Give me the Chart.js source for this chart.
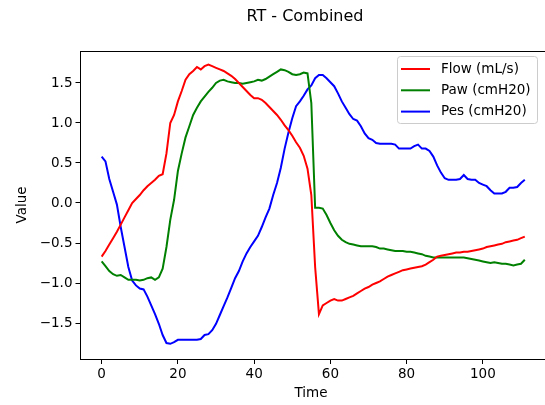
<!DOCTYPE html>
<html>
<head>
<meta charset="utf-8">
<script src="https://cdn.jsdelivr.net/npm/chart.js@4.4.1/dist/chart.umd.min.js"></script>
<style>
  html, body { margin:0; padding:0; background:#fff; }
  #wrap { width:545px; height:405px; position:relative; }
</style>
</head>
<body>
<div id="wrap"><canvas id="chart" width="545" height="405"></canvas></div>
<script>
// ===== Data =====
const TITLE = 'RT - Combined';
const X_LABEL = 'Time';
const Y_LABEL = 'Value';
const SERIES_NAMES = ['Flow (mL/s)', 'Paw (cmH20)', 'Pes (cmH20)'];
const SERIES_COLORS = ['#ff0000', '#008000', '#0000ff'];
const X_TICKS = [0, 20, 40, 60, 80, 100];
const Y_TICKS = [-1.5, -1.0, -0.5, 0.0, 0.5, 1.0, 1.5];

const flow = [
  -0.67,-0.60,-0.52,-0.44,-0.36,-0.27,-0.18,-0.09,0.00,0.05,
  0.10,0.16,0.21,0.25,0.29,0.34,0.36,0.62,1.00,1.10,
  1.27,1.40,1.54,1.61,1.65,1.70,1.67,1.71,1.73,1.71,
  1.69,1.67,1.65,1.62,1.59,1.55,1.50,1.45,1.40,1.35,
  1.31,1.31,1.29,1.25,1.20,1.15,1.10,1.04,0.97,0.91,
  0.84,0.76,0.69,0.59,0.43,0.10,-0.80,-1.39,-1.28,-1.25,
  -1.22,-1.20,-1.22,-1.22,-1.20,-1.18,-1.16,-1.13,-1.10,-1.07,
  -1.05,-1.02,-1.00,-0.98,-0.95,-0.92,-0.90,-0.88,-0.86,-0.84,
  -0.83,-0.82,-0.81,-0.80,-0.79,-0.77,-0.74,-0.71,-0.67,-0.66,
  -0.65,-0.64,-0.63,-0.62,-0.62,-0.61,-0.61,-0.60,-0.59,-0.58,
  -0.57,-0.55,-0.54,-0.53,-0.52,-0.51,-0.49,-0.48,-0.47,-0.46,
  -0.44,-0.42
];
const paw = [
  -0.73,-0.79,-0.85,-0.89,-0.91,-0.90,-0.93,-0.96,-0.96,-0.96,
  -0.97,-0.96,-0.94,-0.93,-0.96,-0.93,-0.82,-0.55,-0.21,0.04,
  0.40,0.62,0.82,0.96,1.10,1.19,1.27,1.33,1.39,1.44,
  1.50,1.53,1.54,1.52,1.51,1.50,1.50,1.49,1.50,1.51,
  1.52,1.54,1.53,1.55,1.58,1.61,1.64,1.67,1.66,1.64,
  1.61,1.60,1.61,1.63,1.62,1.25,-0.06,-0.06,-0.07,-0.15,
  -0.25,-0.34,-0.41,-0.46,-0.49,-0.51,-0.52,-0.53,-0.54,-0.54,
  -0.54,-0.54,-0.55,-0.57,-0.57,-0.58,-0.59,-0.60,-0.60,-0.60,
  -0.61,-0.61,-0.62,-0.63,-0.64,-0.66,-0.67,-0.68,-0.68,-0.68,
  -0.68,-0.68,-0.68,-0.68,-0.68,-0.68,-0.69,-0.70,-0.71,-0.72,
  -0.73,-0.74,-0.75,-0.74,-0.75,-0.76,-0.76,-0.77,-0.78,-0.77,
  -0.76,-0.71
];
const pes = [
  0.58,0.52,0.30,0.14,-0.02,-0.30,-0.55,-0.80,-0.97,-1.03,
  -1.07,-1.08,-1.17,-1.28,-1.39,-1.51,-1.65,-1.75,-1.76,-1.74,
  -1.71,-1.71,-1.71,-1.71,-1.71,-1.71,-1.70,-1.65,-1.64,-1.59,
  -1.51,-1.40,-1.29,-1.18,-1.06,-0.94,-0.85,-0.73,-0.63,-0.55,
  -0.48,-0.41,-0.30,-0.18,-0.07,0.10,0.25,0.44,0.68,0.88,
  1.06,1.21,1.27,1.34,1.42,1.47,1.56,1.60,1.60,1.56,
  1.51,1.46,1.37,1.27,1.19,1.11,1.05,1.03,0.96,0.87,
  0.81,0.79,0.75,0.74,0.74,0.74,0.74,0.73,0.68,0.68,
  0.68,0.68,0.71,0.73,0.68,0.68,0.65,0.58,0.47,0.38,
  0.31,0.29,0.29,0.29,0.30,0.35,0.30,0.29,0.29,0.25,
  0.23,0.21,0.16,0.12,0.12,0.12,0.14,0.19,0.19,0.20,
  0.25,0.29
];
const SERIES = [flow, paw, pes];

// ===== Helpers =====
const FONT = '"DejaVu Sans", sans-serif';
const fmtY = v => v.toFixed(1).replace('-', '\u2212');
const toPoints = arr => arr.map((v, i) => ({ x: i, y: v }));

// ===== Plugin: title, top spine, axis labels, legend (matplotlib look) =====
const mplDecor = {
  id: 'mplDecor',
  afterDraw(chart){
    const { ctx, chartArea:a } = chart;
    ctx.save();
    // top spine (right spine falls outside the picture)
    ctx.strokeStyle = '#000'; ctx.lineWidth = 1;
    ctx.beginPath();
    ctx.moveTo(Math.round(a.left), Math.round(a.top)+0.5);
    ctx.lineTo(chart.width, Math.round(a.top)+0.5);
    ctx.stroke();
    // title
    ctx.fillStyle = '#000';
    ctx.font = '16px ' + FONT;
    ctx.textAlign = 'center'; ctx.textBaseline = 'middle';
    ctx.fillText(TITLE, 305, 17);
    // axis labels
    ctx.font = '13.5px ' + FONT;
    ctx.fillText(X_LABEL, 311, 393);
    ctx.translate(22, 205); ctx.rotate(-Math.PI/2);
    ctx.fillText(Y_LABEL, 0, 0);
    ctx.restore();

    // legend
    ctx.save();
    const bx = 397.5, by = 56.5, bw = 140, bh = 67;
    ctx.fillStyle = 'rgba(255,255,255,0.8)';
    ctx.strokeStyle = '#cccccc'; ctx.lineWidth = 1;
    ctx.beginPath(); ctx.roundRect(bx, by, bw, bh, 3); ctx.fill(); ctx.stroke();
    ctx.font = '13.5px ' + FONT;
    ctx.textAlign = 'left'; ctx.textBaseline = 'middle';
    chart.data.datasets.forEach((ds, i) => {
      const y = 69 + i*21.3;
      ctx.strokeStyle = ds.borderColor; ctx.lineWidth = 2;
      ctx.beginPath(); ctx.moveTo(401, y); ctx.lineTo(430, y); ctx.stroke();
      ctx.fillStyle = '#000';
      ctx.fillText(ds.label, 441, y);
    });
    ctx.restore();
  }
};

// ===== Chart =====
const ctx = document.getElementById('chart');
new Chart(ctx, {
  type: 'line',
  data: {
    datasets: SERIES.map((s, i) => ({
      label: SERIES_NAMES[i],
      data: toPoints(s),
      borderColor: SERIES_COLORS[i],
      borderWidth: 2,
      pointRadius: 0,
      tension: 0,
      fill: false
    }))
  },
  options: {
    responsive: false,
    animation: false,
    layout: { padding: { top: 51, right: 0, left: 0, bottom: 0 } },
    plugins: { legend: { display: false }, title: { display: false }, tooltip: { enabled: false } },
    scales: {
      x: {
        type: 'linear', min: -5.55, max: 116.3,
        afterBuildTicks: s => { s.ticks = X_TICKS.map(v => ({ value: v })); },
        afterFit: s => { s.height = 46; },
        grid: { drawOnChartArea: false, drawTicks: true, tickLength: 5, tickColor: '#000' },
        border: { display: true, color: '#000', width: 1 },
        ticks: { color: '#000', font: { family: FONT, size: 13.5 }, padding: 2, maxRotation: 0, callback: v => String(v) }
      },
      y: {
        type: 'linear', min: -1.95, max: 1.90,
        afterBuildTicks: s => { s.ticks = Y_TICKS.map(v => ({ value: v })); },
        afterFit: s => { s.width = 80.5; },
        grid: { drawOnChartArea: false, drawTicks: true, tickLength: 5, tickColor: '#000' },
        border: { display: true, color: '#000', width: 1 },
        ticks: { color: '#000', font: { family: FONT, size: 13.5 }, padding: 3, callback: v => fmtY(v) }
      }
    }
  },
  plugins: [mplDecor]
});
</script>
</body>
</html>
